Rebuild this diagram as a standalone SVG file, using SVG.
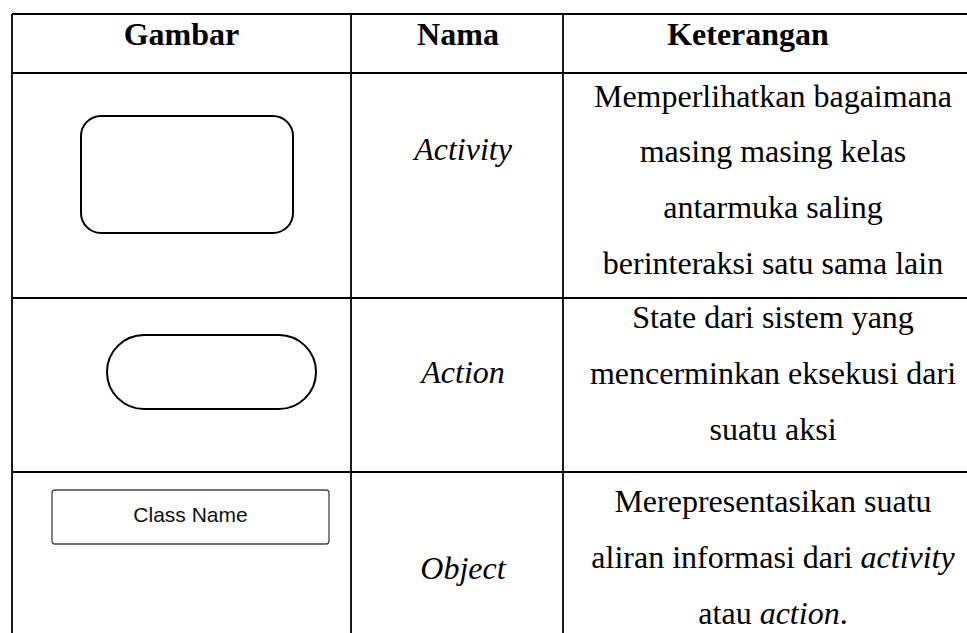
<svg xmlns="http://www.w3.org/2000/svg" width="967" height="633" viewBox="0 0 967 633">
<style>
.grid{stroke:#000;stroke-width:1.8;fill:none}
.hdr{font-family:"Liberation Serif",serif;font-weight:bold;font-size:32px;text-anchor:middle;fill:#000}
.nm{font-family:"Liberation Serif",serif;font-style:italic;font-size:32px;text-anchor:middle;fill:#000}
.ds{font-family:"Liberation Serif",serif;font-size:32px;text-anchor:middle;fill:#000}
.shape{fill:#fff;stroke:#000;stroke-width:2}
.cls{fill:#fff;stroke:#444;stroke-width:1.3}
.clst{font-family:"Liberation Sans",Arial,sans-serif;font-size:21px;text-anchor:middle;fill:#111}
</style>
<rect width="967" height="633" fill="#fff"/>
<g id="table-grid">
<line class="grid" x1="12" y1="14" x2="967" y2="14"/>
<line class="grid" x1="12" y1="73" x2="967" y2="73"/>
<line class="grid" x1="12" y1="298" x2="967" y2="298"/>
<line class="grid" x1="12" y1="472" x2="967" y2="472"/>
<line class="grid" x1="12" y1="14" x2="12" y2="633"/>
<line class="grid" x1="351" y1="14" x2="351" y2="633"/>
<line class="grid" x1="563" y1="14" x2="563" y2="633"/>
</g>
<g id="header">
<text class="hdr" x="181.5" y="45">Gambar</text>
<text class="hdr" x="458" y="45">Nama</text>
<text class="hdr" x="748" y="45">Keterangan</text>
</g>
<g id="row-activity">
<rect class="shape" x="81" y="116" width="212" height="117" rx="20" ry="20"/>
<text class="nm" x="463" y="160">Activity</text>
<text class="ds" x="773" y="107">Memperlihatkan bagaimana</text>
<text class="ds" x="773" y="162">masing masing kelas</text>
<text class="ds" x="773" y="218">antarmuka saling</text>
<text class="ds" x="773" y="274">berinteraksi satu sama lain</text>
</g>
<g id="row-action">
<rect class="shape" x="107" y="335" width="209" height="74" rx="37" ry="37"/>
<text class="nm" x="463" y="383">Action</text>
<text class="ds" x="773" y="328">State dari sistem yang</text>
<text class="ds" x="773" y="384">mencerminkan eksekusi dari</text>
<text class="ds" x="773" y="440">suatu aksi</text>
</g>
<g id="row-object">
<rect class="cls" x="52" y="490" width="277" height="54" rx="3" ry="3"/>
<text class="clst" x="190.5" y="522">Class Name</text>
<text class="nm" x="463" y="579">Object</text>
<text class="ds" x="773" y="512">Merepresentasikan suatu</text>
<text class="ds" x="773" y="568">aliran informasi dari <tspan font-style="italic">activity</tspan></text>
<text class="ds" x="773" y="624">atau <tspan font-style="italic">action</tspan>.</text>
</g>
</svg>
